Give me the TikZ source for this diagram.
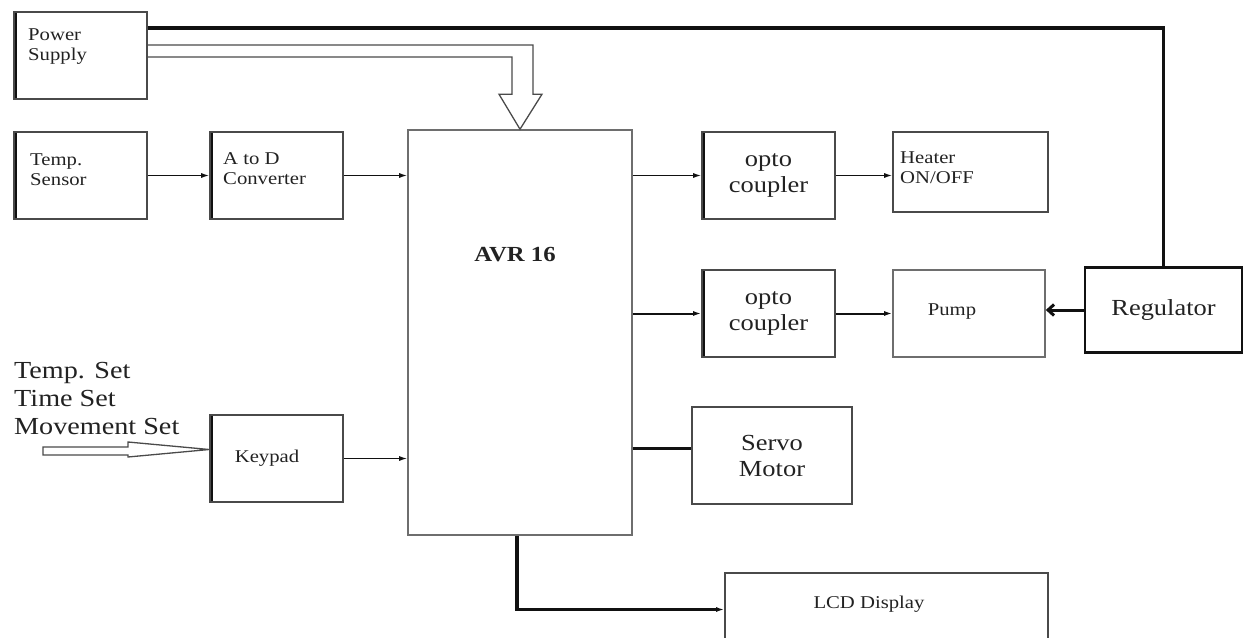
\documentclass[tikz,border=0pt]{standalone}
\usepackage{fontspec}
\setmainfont[FakeStretch=1.15]{Liberation Serif}
\usepackage{tikz}
\usetikzlibrary{arrows.meta,positioning,calc}
\definecolor{BoxGrey}{HTML}{4A4A4A}
\definecolor{LineBlack}{HTML}{111111}
\definecolor{TextGrey}{HTML}{222222}

\begin{document}
\begin{tikzpicture}[
    x=1pt, y=-1pt,
    blk/.style={
      draw=BoxGrey,
      line width=1.6pt,
      inner sep=0pt,
      align=center,
      text=TextGrey,
      font=\fontsize{23}{26}\selectfont
    },
    leftedge/.style={
      path picture={\draw[line width=5pt,color=LineBlack]
        (path picture bounding box.south west) -- (path picture bounding box.north west);}
    },
    txt/.style={
      font=\fontsize{18}{20}\selectfont,
      text=TextGrey,
      inner sep=0pt,
      align=left
    },
    arrow/.style={
      -{Latex[length=8pt,width=5pt]},
      line width=1.3pt,
      color=LineBlack
    },
    power/.style={
      line width=3.5pt,
      color=LineBlack
    },
    hollow/.style={
      line width=1.3pt,
      color=BoxGrey,
      line join=miter
    }
  ]
  \useasboundingbox (0,0) rectangle (1244,637);

  % input side
  \node[blk, leftedge, minimum width=133, minimum height=87] (ps) at (80.5,55.5) {};
  \node[txt, anchor=west] (pstxt) at (28,47) {Power\\Supply};
  \node[blk, leftedge, minimum width=133, minimum height=87] (sens) at (80.5,175.5) {};
  \node[txt, anchor=west] (senstxt) at (30,170) {Temp.\\Sensor};
  \node[blk, leftedge, minimum width=133, minimum height=87] (adc) at (276.5,175.5) {};
  \node[txt, anchor=west] (adctxt) at (223,169) {A to D\\Converter};
  \node[blk, leftedge, minimum width=133, minimum height=87] (keypad) at (276.5,458.5) {};
  \node[txt] (keytxt) at (267,458) {Keypad};

  % controller
  \node[blk, draw=BoxGrey!80, minimum width=224, minimum height=405] (avr) at (520,332.5) {};
  \node[txt, font=\fontsize{21.5}{24}\selectfont\bfseries] (avrtxt) at (515,255) {AVR 16};

  % output side
  \node[blk, leftedge, minimum width=133, minimum height=87] (opto1) at (768.5,175.5) {opto\\coupler};
  \node[blk, minimum width=155, minimum height=80] (heat) at (970.5,172) {};
  \node[txt, anchor=west] (heattxt) at (900,168) {Heater\\ON/OFF};
  \node[blk, leftedge, minimum width=133, minimum height=87] (opto2) at (768.5,313.5) {opto\\coupler};
  \node[blk, draw=BoxGrey!80, minimum width=152, minimum height=87] (pump) at (969,313.5) {};
  \node[txt] (pumptxt) at (952,312) {Pump};
  \node[blk, draw=LineBlack, line width=2.4pt, minimum width=157, minimum height=85] (reg) at (1163.5,310) {Regulator};
  \node[blk, minimum width=160, minimum height=97] (servo) at (772,455.5) {Servo\\Motor};
  \node[blk, minimum width=323, minimum height=87] (lcd) at (886.5,616.5) {};
  \node[txt] (lcdtxt) at (869,604) {LCD Display};

  % settings entered on the keypad
  \node[txt, font=\fontsize{24.5}{28}\selectfont, anchor=west] (sets) at (14,399)
    {Temp. Set\\Time Set\\Movement Set};
  \coordinate (kin) at (43,451);

  % signal arrows
  \draw[arrow] (sens.east) -- (adc.west);
  \draw[arrow] (adc.east) -- (adc.east -| avr.west);
  \draw[arrow] (keypad.east) -- (keypad.east -| avr.west);
  \draw[arrow] (opto1.west -| avr.east) -- (opto1.west);
  \draw[arrow] (opto1.east) -- (heat.west |- opto1.east);
  \draw[arrow, line width=2pt] (opto2.west -| avr.east) -- (opto2.west);
  \draw[arrow, line width=2pt] (opto2.east) -- (pump.west |- opto2.east);
  \draw[power, line width=3pt, -{Straight Barb[length=6pt,width=11pt,line width=3pt]}]
    (reg.west) -- (pump.east |- reg.west);
  \draw[power] ([yshift=7pt]servo.west -| avr.east) -- ([yshift=7pt]servo.west);
  \draw[power, -{Latex[length=8pt,width=5pt]}] ([xshift=-3pt]avr.south) |- ([yshift=7pt]lcd.west);

  % supply lines
  \draw[power] ([yshift=27.5pt]ps.east) -| (reg.north);
  \draw[hollow] ([yshift=10.5pt]ps.east) -| ($(avr.north)+(13,-35)$)
    -- ($(avr.north)+(22,-35)$) -- (avr.north) -- ($(avr.north)+(-21,-35)$)
    -- ($(avr.north)+(-8,-35)$) |- ([yshift=-1.5pt]ps.east);
  \draw[hollow] ($(kin)+(0,-4)$) -- ($(kin)+(85,-4)$) -- ($(kin)+(85,-9)$)
    -- ([yshift=9pt]keypad.west) -- ($(kin)+(85,6)$) -- ($(kin)+(85,4)$)
    -- ($(kin)+(0,4)$) -- cycle;

\end{tikzpicture}
\end{document}
